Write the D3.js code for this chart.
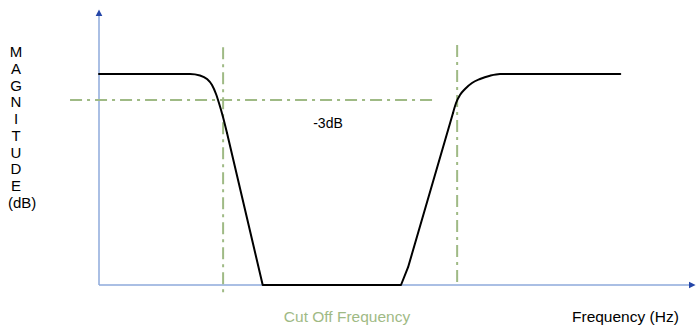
<!DOCTYPE html>
<html>
<head>
<meta charset="utf-8">
<script src="https://cdn.jsdelivr.net/npm/d3@7"></script>
<style>
  html, body { margin: 0; padding: 0; background: #fff; }
  svg { display: block; font-family: "Liberation Sans", Arial, sans-serif; }
</style>
</head>
<body>
<div id="chart"></div>
<script>
// Response curve (frequency units, dB)
const freq = [0, 15.4, 17.09, 18.27, 19.12, 19.80, 20.30, 20.98, 21.66, 27.7, 51.1, 52.3, 59.90, 60.41, 61.08, 61.93, 63.11, 64.47, 66.16, 67.85, 88.2];
const magnitude = [0, 0, -0.17, -0.58, -1.27, -2.31, -3.35, -4.96, -6.81, -24.35, -24.35, -22.3, -4.50, -3.35, -2.42, -1.73, -1.04, -0.58, -0.20, 0, 0];
// point index ranges drawn as rounded knees; the rest is straight
const knees = [[0, 8], [12, 20]];

// Cut off markers
const cutoffs = [21.0, 60.6];
const cutoffTop = [3.1, 3.35];
const cutoffBottom = [-25.5, -24.35];
const refLevel = -3;
const refRange = [-4.9, 56.9];

// Labels
const yLetters = ["M", "A", "G", "N", "I", "T", "U", "D", "E", "(dB)"];
const refLabel = "-3dB";
const cutoffLabel = "Cut Off Frequency";
const xLabel = "Frequency (Hz)";

const width = 697, height = 329;
const svg = d3.select("#chart").append("svg")
  .attr("width", width)
  .attr("height", height);

const x = d3.scaleLinear().domain([0, 100]).range([99, 690]);
const y = d3.scaleLinear().domain([-24.35, 7.5]).range([285, 9]);

const green = "#9fba85";
const axisBlue = "#8eaadb";
const arrowBlue = "#2446a8";

// Arrow marker
svg.append("defs").append("marker")
  .attr("id", "arrow")
  .attr("viewBox", "0 0 10 10")
  .attr("refX", 2).attr("refY", 5)
  .attr("markerWidth", 7).attr("markerHeight", 8)
  .attr("markerUnits", "userSpaceOnUse")
  .attr("orient", "auto")
  .append("path")
  .attr("d", "M0,0L10,5L0,10Z")
  .attr("fill", arrowBlue);

// Axes
svg.append("line")
  .attr("x1", x(0)).attr("y1", y(-24.35))
  .attr("x2", x(0)).attr("y2", y(7.5) + 6)
  .attr("stroke", axisBlue).attr("stroke-width", 1.5)
  .attr("marker-end", "url(#arrow)");

svg.append("line")
  .attr("x1", x(0)).attr("y1", y(-24.35))
  .attr("x2", x(100)).attr("y2", y(-24.35))
  .attr("stroke", axisBlue).attr("stroke-width", 1.5)
  .attr("marker-end", "url(#arrow)");

// Dash-dot guides
const dash = "12,5,3,5";
svg.append("line")
  .attr("x1", x(refRange[0])).attr("x2", x(refRange[1]))
  .attr("y1", y(refLevel)).attr("y2", y(refLevel))
  .attr("stroke", green).attr("stroke-width", 2)
  .attr("stroke-dasharray", dash);

svg.selectAll(".cutoff")
  .data(cutoffs)
  .enter()
  .append("line")
  .attr("class", "cutoff")
  .attr("x1", d => x(d)).attr("x2", d => x(d))
  .attr("y1", (d, i) => y(cutoffTop[i]))
  .attr("y2", (d, i) => y(cutoffBottom[i]))
  .attr("stroke", green).attr("stroke-width", 2)
  .attr("stroke-dasharray", dash);

// Curve: smooth knees joined by straight pieces
const pts = freq.map((f, i) => [f, magnitude[i]]);
const smooth = d3.line().x(d => x(d[0])).y(d => y(d[1])).curve(d3.curveMonotoneX);
const straight = d3.line().x(d => x(d[0])).y(d => y(d[1]));

const pieces = [];
let last = 0;
knees.forEach(function (k) {
  if (k[0] > last) pieces.push({ pts: pts.slice(last, k[0] + 1), gen: straight });
  pieces.push({ pts: pts.slice(k[0], k[1] + 1), gen: smooth });
  last = k[1];
});
if (last < pts.length - 1) pieces.push({ pts: pts.slice(last), gen: straight });

svg.selectAll(".curve")
  .data(pieces)
  .enter()
  .append("path")
  .attr("class", "curve")
  .attr("d", d => d.gen(d.pts))
  .attr("fill", "none")
  .attr("stroke", "#000")
  .attr("stroke-width", 2)
  .attr("stroke-linejoin", "round")
  .attr("stroke-linecap", "round");

// Texts
svg.append("text")
  .attr("x", 328).attr("y", 128)
  .attr("text-anchor", "middle")
  .attr("font-size", 14)
  .text(refLabel);

svg.append("text")
  .attr("x", 347).attr("y", 322)
  .attr("text-anchor", "middle")
  .attr("font-size", 15.5)
  .attr("fill", green)
  .text(cutoffLabel);

svg.append("text")
  .attr("x", 572).attr("y", 322)
  .attr("font-size", 15.5)
  .attr("fill", "#000")
  .text(xLabel);

svg.selectAll(".ylab")
  .data(yLetters)
  .enter()
  .append("text")
  .attr("class", "ylab")
  .attr("x", d => d.length > 1 ? 8 : 16)
  .attr("y", (d, i) => 57 + i * 16.75)
  .attr("text-anchor", d => d.length > 1 ? "start" : "middle")
  .attr("font-size", 15)
  .text(d => d);
</script>
</body>
</html>
